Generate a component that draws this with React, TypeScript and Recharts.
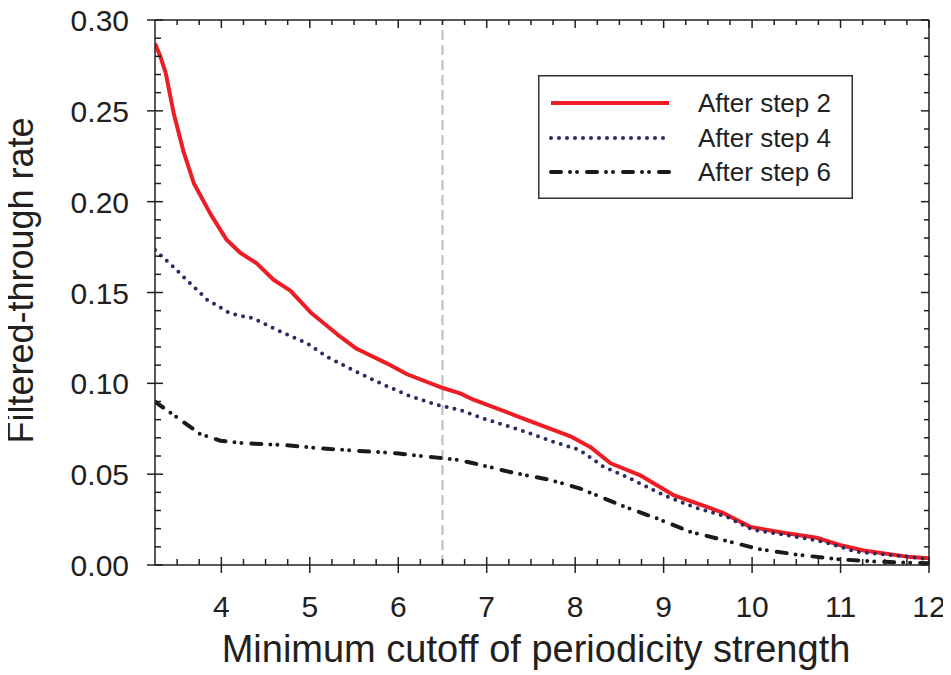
import React from 'react';
import { LineChart, Line, XAxis, YAxis, ReferenceLine, Legend, Label } from 'recharts';

// values
const step2X = [3.25, 3.31, 3.37, 3.46, 3.57, 3.69, 3.88, 4.06, 4.21, 4.4, 4.59, 4.78, 5.01, 5.31, 5.53, 5.87, 6.1, 6.47, 6.7, 6.85, 7.34, 7.94, 8.17, 8.4, 8.73, 9.11, 9.49, 9.68, 9.98, 10.32, 10.73, 10.99, 11.26, 11.75, 12];
const step2Y = [0.287, 0.28, 0.271, 0.249, 0.228, 0.21, 0.193, 0.179, 0.172, 0.166, 0.157, 0.151, 0.139, 0.127, 0.119, 0.111, 0.105, 0.098, 0.0945, 0.091, 0.082, 0.071, 0.065, 0.056, 0.0495, 0.0385, 0.032, 0.0285, 0.021, 0.018, 0.015, 0.011, 0.008, 0.0046, 0.0037];

const step4X = [3.25, 3.46, 3.57, 3.84, 4.1, 4.36, 4.67, 4.97, 5.19, 5.49, 5.8, 6.1, 6.44, 6.7, 6.96, 7.38, 7.75, 8.05, 8.32, 8.58, 9.0, 9.33, 9.71, 10.01, 10.39, 10.8, 11.18, 11.75, 12];
const step4Y = [0.1734, 0.164, 0.1587, 0.146, 0.1385, 0.1358, 0.1284, 0.122, 0.1147, 0.1073, 0.1, 0.0936, 0.0881, 0.0853, 0.0807, 0.0743, 0.0679, 0.0633, 0.0541, 0.0486, 0.0385, 0.0321, 0.0266, 0.0193, 0.0165, 0.0128, 0.0073, 0.0046, 0.0031];

const step6X = [3.25, 3.54, 3.76, 3.99, 4.25, 4.7, 5.12, 5.53, 5.98, 6.44, 6.66, 6.85, 7.3, 7.72, 8.05, 8.51, 8.92, 9.3, 9.75, 10.09, 10.54, 10.99, 11.44, 12];
const step6Y = [0.0899, 0.0798, 0.0721, 0.0684, 0.067, 0.0661, 0.0642, 0.0629, 0.0615, 0.0591, 0.058, 0.056, 0.0508, 0.0468, 0.0422, 0.033, 0.0257, 0.0183, 0.0128, 0.0086, 0.0055, 0.0031, 0.0018, 0.001];

const seriesNames = ['After step 2', 'After step 4', 'After step 6'];

// axis ticks: x every 0.25 (labels on integers), y every 0.01 (labels every 0.05)
const xTicks = Array.from({ length: 35 }, (_, i) => 3.5 + i * 0.25);
const yTicks = Array.from({ length: 31 }, (_, i) => i / 100);
const cutoffLine = 6.5;

const toPoints = (xs: number[], ys: number[]) => xs.map((x, i) => ({ x, y: ys[i] }));

const AXIS = '#231f20';
const FONT = '"Liberation Sans", Arial, Helvetica, sans-serif';

const styles = [
  { stroke: '#ee1c25', strokeWidth: 4, strokeDasharray: undefined as string | undefined, strokeLinecap: 'butt' as const },
  { stroke: '#2b2d62', strokeWidth: 4, strokeDasharray: '0 8', strokeLinecap: 'round' as const },
  { stroke: '#1a1a1a', strokeWidth: 4, strokeDasharray: '10 9 0 7 0 10', strokeLinecap: 'round' as const },
];

const isInt = (v: number) => Math.abs(v - Math.round(v)) < 1e-6;
const isMajorY = (v: number) => Math.round(v * 100) % 5 === 0;

const BottomTick = ({ x, y, payload }: any) => {
  const major = isInt(payload.value);
  return (
    <g>
      <line x1={x} x2={x} y1={major ? y - 8 : y - 6} y2={major ? y + 8 : y} stroke={AXIS} strokeWidth={1.5} />
      {major && (
        <text x={x} y={y + 52} textAnchor="middle" fontSize={30} fill={AXIS} fontFamily={FONT}>
          {Math.round(payload.value)}
        </text>
      )}
    </g>
  );
};

const TopTick = ({ x, y, payload }: any) => {
  const major = isInt(payload.value);
  return <line x1={x} x2={x} y1={y} y2={y + (major ? 8 : 5)} stroke={AXIS} strokeWidth={1.5} />;
};

const LeftTick = ({ x, y, payload }: any) => {
  const major = isMajorY(payload.value);
  return (
    <g>
      <line x1={major ? x - 8 : x} x2={x + (major ? 8 : 6)} y1={y} y2={y} stroke={AXIS} strokeWidth={1.5} />
      {major && (
        <text x={x - 26} y={y + 11} textAnchor="end" fontSize={30} fill={AXIS} fontFamily={FONT}>
          {payload.value.toFixed(2)}
        </text>
      )}
    </g>
  );
};

const RightTick = ({ x, y, payload }: any) => {
  const major = isMajorY(payload.value);
  return <line x1={x - (major ? 8 : 5)} x2={x} y1={y} y2={y} stroke={AXIS} strokeWidth={1.5} />;
};

const LegendBox = () => {
  const rows = [28, 63, 97];
  return (
    <svg width={315} height={124} style={{ display: 'block' }}>
      <rect x={0.75} y={0.75} width={313.5} height={122.5} fill="#fff" stroke="#333" strokeWidth={1.5} />
      {seriesNames.map((name, i) => (
        <g key={name}>
          <line
            x1={13}
            x2={131}
            y1={rows[i]}
            y2={rows[i]}
            stroke={styles[i].stroke}
            strokeWidth={styles[i].strokeWidth}
            strokeDasharray={styles[i].strokeDasharray}
            strokeLinecap={styles[i].strokeLinecap}
          />
          <text x={160} y={rows[i] + 9} fontSize={26} fill={AXIS} fontFamily={FONT}>
            {name}
          </text>
        </g>
      ))}
    </svg>
  );
};

const App = () => {
  const series = [toPoints(step2X, step2Y), toPoints(step4X, step4Y), toPoints(step6X, step6Y)];

  // the page has an 8px body margin; pull the chart back to the corner
  return (
    <div style={{ width: 951, height: 675, margin: '-8px 0 0 -8px', fontFamily: FONT, background: '#fff' }}>
      <LineChart width={951} height={675} margin={{ top: 0, right: 0, bottom: 0, left: 0 }}>
        <XAxis
          xAxisId="bottom"
          dataKey="x"
          type="number"
          domain={[3.25, 12]}
          allowDataOverflow
          ticks={xTicks}
          interval={0}
          height={110}
          tickSize={0}
          tickMargin={0}
          tickLine={false}
          tick={<BottomTick />}
          axisLine={{ stroke: AXIS, strokeWidth: 1.5 }}
        >
          <Label
            content={({ viewBox }: any) => (
              <text
                x={viewBox.x + viewBox.width / 2 - 6}
                y={viewBox.y + 97}
                textAnchor="middle"
                fontSize={38}
                fill={AXIS}
                fontFamily={FONT}
              >
                Minimum cutoff of periodicity strength
              </text>
            )}
          />
        </XAxis>
        <XAxis
          xAxisId="top"
          orientation="top"
          dataKey="x"
          type="number"
          domain={[3.25, 12]}
          allowDataOverflow
          ticks={xTicks}
          interval={0}
          height={20}
          tickSize={0}
          tickMargin={0}
          tickLine={false}
          tick={<TopTick />}
          axisLine={{ stroke: AXIS, strokeWidth: 1.5 }}
        />
        <YAxis
          yAxisId="left"
          type="number"
          domain={[0, 0.3]}
          allowDataOverflow
          ticks={yTicks}
          interval={0}
          width={155}
          tickSize={0}
          tickMargin={0}
          tickLine={false}
          tick={<LeftTick />}
          axisLine={{ stroke: AXIS, strokeWidth: 1.5 }}
        >
          <Label
            content={({ viewBox }: any) => {
              const lx = viewBox.x + 33;
              const ly = viewBox.y + viewBox.height / 2 - 12;
              return (
                <text
                  x={lx}
                  y={ly}
                  transform={`rotate(-90, ${lx}, ${ly})`}
                  textAnchor="middle"
                  fontSize={36}
                  fill={AXIS}
                  fontFamily={FONT}
                >
                  Filtered-through rate
                </text>
              );
            }}
          />
        </YAxis>
        <YAxis
          yAxisId="right"
          orientation="right"
          type="number"
          domain={[0, 0.3]}
          allowDataOverflow
          ticks={yTicks}
          interval={0}
          width={22}
          tickSize={0}
          tickMargin={0}
          tickLine={false}
          tick={<RightTick />}
          axisLine={{ stroke: AXIS, strokeWidth: 1.5 }}
        />
        <ReferenceLine
          xAxisId="bottom"
          yAxisId="left"
          x={cutoffLine}
          stroke="#bdbdbd"
          strokeWidth={2}
          strokeDasharray="10 5"
        />
        {series.map((pts, i) => (
          <Line
            key={seriesNames[i]}
            xAxisId="bottom"
            yAxisId="left"
            data={pts}
            dataKey="y"
            name={seriesNames[i]}
            type="linear"
            dot={false}
            activeDot={false}
            isAnimationActive={false}
            stroke={styles[i].stroke}
            strokeWidth={styles[i].strokeWidth}
            strokeDasharray={styles[i].strokeDasharray}
            strokeLinecap={styles[i].strokeLinecap}
            strokeLinejoin="round"
          />
        ))}
        <Legend
          layout="vertical"
          align="center"
          verticalAlign="middle"
          content={() => <LegendBox />}
          wrapperStyle={{ left: 538, top: 75, width: 315, height: 124 }}
        />
      </LineChart>
    </div>
  );
};

export default App;
